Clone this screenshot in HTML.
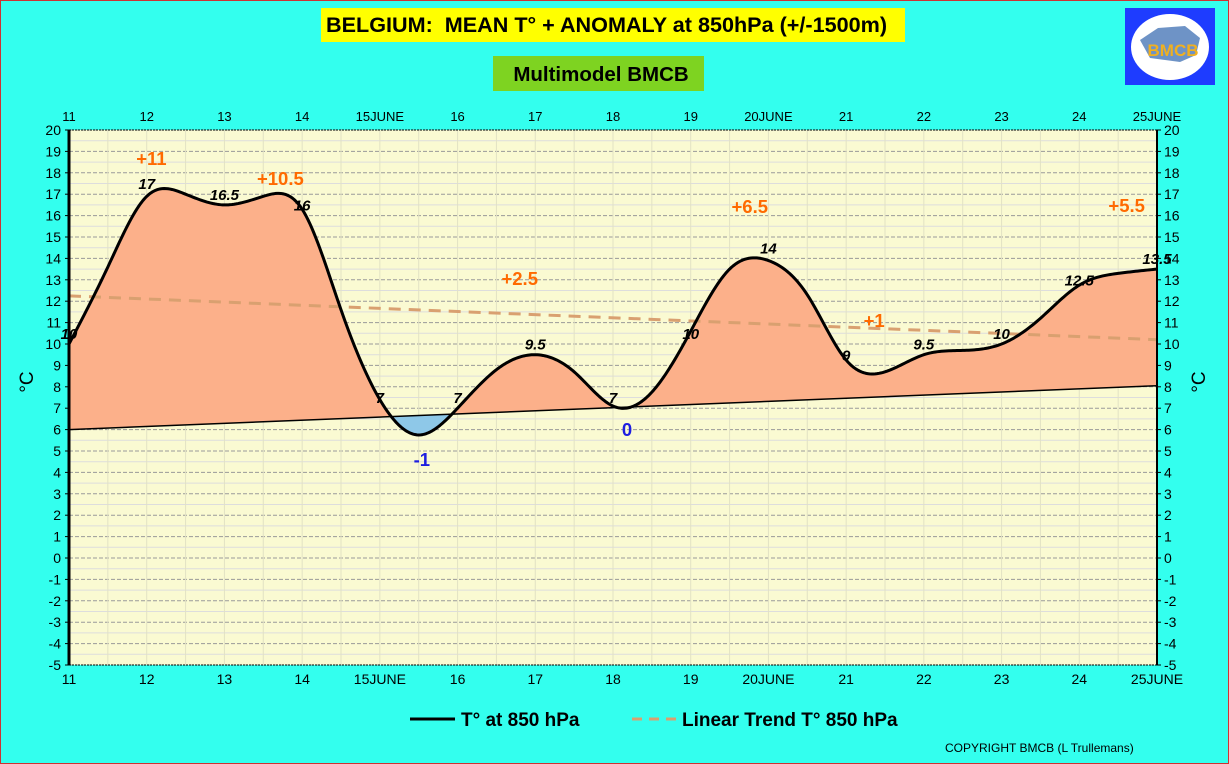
<!DOCTYPE html>
<html><head><meta charset="utf-8"><style>
html,body{margin:0;padding:0}
body{width:1229px;height:764px;background:#33FFEE;position:relative;overflow:hidden;font-family:"Liberation Sans",sans-serif}
#frame{position:absolute;left:0;top:0;width:1227px;height:762px;border:1px solid #c33}
</style></head><body>
<div id="frame"></div>
<svg id="chart" width="1229" height="764" style="position:absolute;left:0;top:0">
  <rect x="321" y="8" width="584" height="34" fill="#FFFF00"/>
  <text x="326" y="32" font-size="21.6" font-weight="bold" fill="#000" xml:space="preserve" style="white-space:pre">BELGIUM:  MEAN T° + ANOMALY at 850hPa (+/-1500m)</text>
  <rect x="493" y="56" width="211" height="35" fill="#7ED321"/>
  <text x="601" y="81" text-anchor="middle" font-size="20.5" font-weight="bold" fill="#000">Multimodel BMCB</text>
  <g>
    <rect x="1125" y="8" width="90" height="77" fill="#1E3CFF"/>
    <ellipse cx="1170" cy="47" rx="39" ry="33" fill="#fff"/>
    <path d="M1140,40 L1158,28 L1185,26 L1200,38 L1196,55 L1180,62 L1150,58 Z" fill="#4a78b8" opacity="0.8"/>
    <text x="1173" y="56" text-anchor="middle" font-size="17" font-weight="bold" fill="#F0B020">BMCB</text>
  </g>
  <g id="plot"></g>
  <g>
    <line x1="410" y1="719" x2="455" y2="719" stroke="#000" stroke-width="3"/>
    <text x="461" y="726" font-size="19" font-weight="bold" fill="#000">T° at 850 hPa</text>
    <line x1="632" y1="719" x2="677" y2="719" stroke="#D9A070" stroke-width="3" stroke-dasharray="10,7"/>
    <text x="682" y="726" font-size="19" font-weight="bold" fill="#000">Linear Trend T° 850 hPa</text>
  </g>
  <text x="945" y="752" font-size="12" fill="#000">COPYRIGHT BMCB (L Trullemans)</text>
</svg>
<script>
const days = [11,11.5,12,12.5,13,13.5,14,14.5,15,15.5,16,16.5,17,17.5,18,18.5,19,19.5,20,20.5,21,21.5,22,22.5,23,23.5,24,24.5,25];
const temps = [10,13.6,16.9,17.0,16.5,16.9,16.3,11.6,7.4,5.75,7.0,8.8,9.5,8.7,7.1,7.75,10.6,13.5,13.9,12.3,9.25,8.7,9.5,9.7,10,11.2,12.75,13.3,13.5];
const trendStart = 6.0, trendEnd = 8.05;
const dashStart = 12.25, dashEnd = 10.2;
const pointLabels = [[11,10,"10"],[12,17,"17"],[13,16.5,"16.5"],[14,16,"16"],[15,7,"7"],[16,7,"7"],[17,9.5,"9.5"],[18,7,"7"],[19,10,"10"],[20,14,"14"],[21,9,"9"],[22,9.5,"9.5"],[23,10,"10"],[24,12.5,"12.5"],[25,13.5,"13.5"]];
const anomalies = [[12.06,18.36,"+11","#FF6A00"],[13.72,17.43,"+10.5","#FF6A00"],[16.80,12.76,"+2.5","#FF6A00"],[19.76,16.12,"+6.5","#FF6A00"],[21.36,10.79,"+1","#FF6A00"],[24.61,16.17,"+5.5","#FF6A00"],[15.54,4.30,"-1","#1E1EE0"],[18.18,5.70,"0","#1E1EE0"]];
const xTicks = ["11","12","13","14","15JUNE","16","17","18","19","20JUNE","21","22","23","24","25JUNE"];
const yMin=-5,yMax=20;
const L=69,R=1157,T=130,B=665;
const X=d=>L+(d-11)/14*(R-L);
const Y=v=>B-(v-yMin)/(yMax-yMin)*(B-T);
const NS="http://www.w3.org/2000/svg";
const g=document.getElementById('plot');
function mk(tag,attrs,parent){const e=document.createElementNS(NS,tag);for(const k in attrs)e.setAttribute(k,attrs[k]);(parent||g).appendChild(e);return e;}
function txt(x,y,s,attrs){const e=mk('text',Object.assign({x:x,y:y},attrs));e.textContent=s;return e;}
const bg=mk('rect',{x:L,y:T,width:R-L,height:B-T,fill:'#FAFAD2'});


for(let v=yMin;v<=yMax;v+=0.5){const l=mk('line',{x1:L,x2:R,y1:Y(v),y2:Y(v),stroke:Number.isInteger(v)?'#999':'#ddd','stroke-width':1,'stroke-dasharray':Number.isInteger(v)?'4,2':''});

}
for(let d=11;d<=25;d+=0.5){const l=mk('line',{x1:X(d),x2:X(d),y1:T,y2:B,stroke:'#e2e2c4','stroke-width':1});

}
const n=days.length;const h=[],al=[],l2=[1],mu=[0],z=[0],c=new Array(n).fill(0),bb=[],dd=[];
for(let i=0;i<n-1;i++)h.push(days[i+1]-days[i]);
for(let i=1;i<n-1;i++)al[i]=3/h[i]*(temps[i+1]-temps[i])-3/h[i-1]*(temps[i]-temps[i-1]);
for(let i=1;i<n-1;i++){l2[i]=2*(days[i+1]-days[i-1])-h[i-1]*mu[i-1];mu[i]=h[i]/l2[i];z[i]=(al[i]-h[i-1]*z[i-1])/l2[i];}
for(let j=n-2;j>=0;j--){c[j]=z[j]-mu[j]*c[j+1];bb[j]=(temps[j+1]-temps[j])/h[j]-h[j]*(c[j+1]+2*c[j])/3;dd[j]=(c[j+1]-c[j])/(3*h[j]);}
let dstr='';
for(let i=0;i<n-1;i++){for(let k=0;k<20;k++){const t=h[i]*k/20;const v=temps[i]+bb[i]*t+c[i]*t*t+dd[i]*t*t*t;dstr+=(dstr?' L':'M')+X(days[i]+t).toFixed(2)+','+Y(v).toFixed(2);}}
dstr+=' L'+X(days[n-1])+','+Y(temps[n-1]);
const tx1=X(11),ty1=Y(trendStart),tx2=X(25),ty2=Y(trendEnd);
const defs=mk('defs',{});
const c1=mk('clipPath',{id:'above'},defs);mk('polygon',{points:`${L},${T} ${R},${T} ${tx2},${ty2} ${tx1},${ty1}`},c1);
const c2=mk('clipPath',{id:'below'},defs);mk('polygon',{points:`${tx1},${ty1} ${tx2},${ty2} ${R},${B} ${L},${B}`},c2);
const areaD=dstr+` L${tx2},${ty2} L${tx1},${ty1} Z`;
const a1=mk('path',{d:areaD,fill:'#FCB08A','clip-path':'url(#above)'});


const a2=mk('path',{d:areaD,fill:'#8EC8E8','clip-path':'url(#below)'});


const dash=mk('line',{x1:X(11),y1:Y(dashStart),x2:X(25),y2:Y(dashEnd),stroke:'#D9A070','stroke-width':3,'stroke-dasharray':'12,8'});


const tl=mk('line',{x1:tx1,y1:ty1,x2:tx2,y2:ty2,stroke:'#000','stroke-width':1.5});


const line=mk('path',{d:dstr,fill:'none',stroke:'#000','stroke-width':3,'stroke-linejoin':'round'});


mk('rect',{x:L,y:T,width:R-L,height:B-T,fill:'none',stroke:'#000','stroke-width':1,'stroke-dasharray':'2,1'});
mk('line',{x1:L,y1:T,x2:L,y2:B,stroke:'#000','stroke-width':3});
mk('line',{x1:R,y1:T,x2:R,y2:B,stroke:'#000','stroke-width':2});
for(let v=yMin;v<=yMax;v++){
 const a=txt(L-8,Y(v)+5,String(v),{'text-anchor':'end','font-size':14,fill:'#000'});
 
 
 const b=txt(R+7,Y(v)+5,String(v),{'font-size':14,fill:'#000'});
 
 
 mk('line',{x1:L-4,x2:L,y1:Y(v),y2:Y(v),stroke:'#000'});
 mk('line',{x1:R,x2:R+4,y1:Y(v),y2:Y(v),stroke:'#000'});
}
xTicks.forEach((s,i)=>{
 const a=txt(X(11+i),121,s,{'text-anchor':'middle','font-size':13,fill:'#000'});
 
 
 const b=txt(X(11+i),684,s,{'text-anchor':'middle','font-size':14,fill:'#000'});
 
 
});
const yl=txt(33,382,'°C',{'font-size':19,fill:'#000',transform:'rotate(-90 33 382)','text-anchor':'middle'});


const yr=txt(1205,382,'°C',{'font-size':19,fill:'#000',transform:'rotate(-90 1205 382)','text-anchor':'middle'});


pointLabels.forEach(p=>{
 const e=txt(X(p[0]),Y(p[1])-5,p[2],{'text-anchor':'middle','font-size':15,'font-weight':'bold','font-style':'italic',fill:'#000'});
 
 
});
anomalies.forEach(p=>{
 const e=txt(X(p[0]),Y(p[1]),p[2],{'text-anchor':'middle','font-size':18.5,'font-weight':'bold',fill:p[3]});
 
 
});
</script>
</body></html>
